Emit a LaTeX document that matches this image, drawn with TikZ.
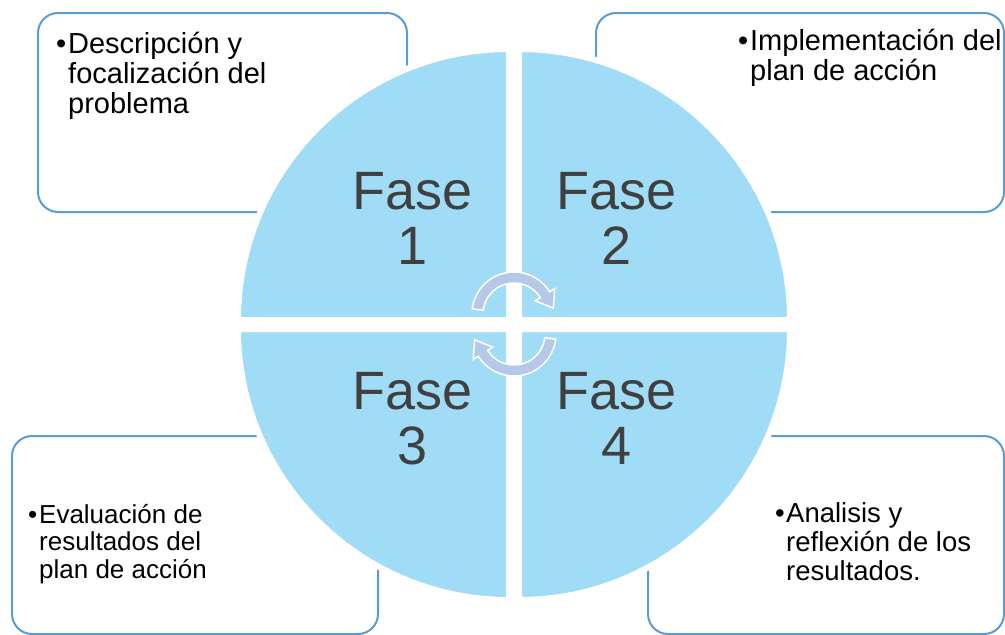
\documentclass[tikz,border=0pt]{standalone}
\usepackage{fontspec}
\setmainfont{Liberation Sans}
\usetikzlibrary{positioning}
\definecolor{quadblue}{RGB}{160,220,246}
\definecolor{boxblue}{RGB}{91,155,213}
\definecolor{arrowblue}{RGB}{182,200,232}
\definecolor{fasegray}{RGB}{64,64,64}
\tikzset{infobox/.style={draw=boxblue,line width=2pt,rounded corners=20pt,inner sep=0pt,outer sep=0pt},
	 quad/.style={fill=quadblue,draw=white,line width=6pt},
	 fase/.style={text=fasegray,font=\fontsize{54}{55}\selectfont,align=center,inner sep=0pt},
	 item/.style={anchor=base west,align=left,inner sep=0pt},
	 cyclearrow/.style={fill=arrowblue,draw=white,line width=1.5pt,line join=miter}
	 }
\newcommand{\bul}[1]{\makebox[#1][l]{•}}

\begin{document}
\begin{tikzpicture}[x=1pt,y=-1pt] % ciclo de fases
        \useasboundingbox (0,0) rectangle (1005,635);
        % cajas
        \node[infobox,minimum width=369pt,minimum height=199pt] (box1) at (222.5,112.5) {};
        \node[infobox,minimum width=408pt,minimum height=199pt] (box2) at (800,112.5) {};
        \node[infobox,minimum width=366pt,minimum height=198pt] (box3) at (195,535) {};
        \node[infobox,minimum width=356pt,minimum height=198pt] (box4) at (826,535) {};
        % cuadrantes
        \foreach \cx/\cy/\a in {509/320/180, 519/320/270, 519/329/0, 509/329/90}
            \filldraw[quad] (\cx,\cy) -- ++(\a:271) arc[start angle=\a,end angle=\a+90,radius=271] -- cycle;
        \node[fase,anchor=base] (fase1) at (413,264) {Fase\\1};
        \node[fase,anchor=base] (fase2) at (617,264) {Fase\\2};
        \node[fase,anchor=base] (fase3) at (413,464) {Fase\\3};
        \node[fase,anchor=base] (fase4) at (617,464) {Fase\\4};
        % flechas
        \coordinate (ca) at (514,314);
        \coordinate (cb) at (514,334);
        \filldraw[cyclearrow] ([shift={(187:42)}]ca) arc[start angle=187,end angle=328,radius=42]
            -- ([shift={(328:48)}]ca) -- ([shift={(351.6:39.8)}]ca) -- ([shift={(328:25)}]ca)
            -- ([shift={(328:31)}]ca) arc[start angle=328,end angle=187,radius=31] -- cycle;
        \filldraw[cyclearrow] ([shift={(7:42)}]cb) arc[start angle=7,end angle=148,radius=42]
            -- ([shift={(148:48)}]cb) -- ([shift={(171.6:39.8)}]cb) -- ([shift={(148:25)}]cb)
            -- ([shift={(148:31)}]cb) arc[start angle=148,end angle=7,radius=31] -- cycle;
        % textos
        \node[item,font=\fontsize{29}{30}\selectfont] (txt1) at (56,113)
            {\bul{12pt}Descripción y\\\hspace*{12pt}focalización del\\\hspace*{12pt}problema};
        \node[item,font=\fontsize{29}{30}\selectfont] (txt2) at (738,80)
            {\bul{12pt}Implementación del\\\hspace*{12pt}plan de acción};
        \node[item,font=\fontsize{26}{27.5}\selectfont] (txt3) at (28,578)
            {\bul{11pt}Evaluación de\\\hspace*{11pt}resultados del\\\hspace*{11pt}plan de acción};
        \node[item,font=\fontsize{27.5}{29}\selectfont] (txt4) at (775,580)
            {\bul{11pt}Analisis y\\\hspace*{11pt}reflexión de los\\\hspace*{11pt}resultados.};
\end{tikzpicture}
\end{document}
